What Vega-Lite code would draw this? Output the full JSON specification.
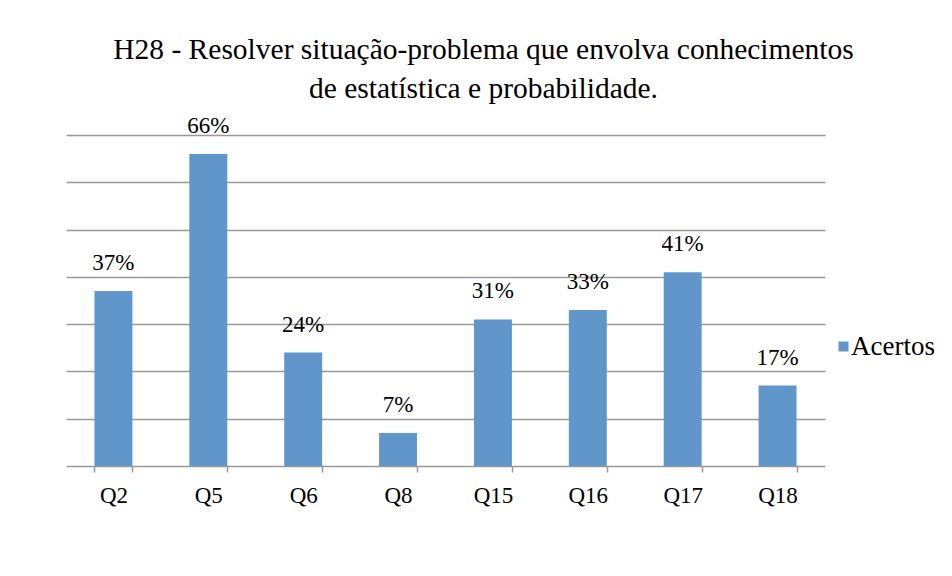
{
  "$schema": "https://vega.github.io/schema/vega-lite/v6.json",
  "autosize": "none",
  "width": 759,
  "height": 331,
  "padding": {"left": 66, "top": 135, "right": 127, "bottom": 110},
  "background": "white",
  "title": {
    "text": ["H28 - Resolver situação-problema que envolva conhecimentos", "de estatística e probabilidade."],
    "font": "Liberation Serif",
    "fontSize": 29.5,
    "fontWeight": "normal",
    "color": "black",
    "anchor": "middle",
    "dx": 38,
    "lineHeight": 39,
    "baseline": "alphabetic",
    "offset": -13
  },
  "data": {
    "values": [
      {"questao": "Q2", "serie": "Acertos", "valor": 0.37},
      {"questao": "Q5", "serie": "Acertos", "valor": 0.66},
      {"questao": "Q6", "serie": "Acertos", "valor": 0.24},
      {"questao": "Q8", "serie": "Acertos", "valor": 0.07},
      {"questao": "Q15", "serie": "Acertos", "valor": 0.31},
      {"questao": "Q16", "serie": "Acertos", "valor": 0.33},
      {"questao": "Q17", "serie": "Acertos", "valor": 0.41},
      {"questao": "Q18", "serie": "Acertos", "valor": 0.17}
    ]
  },
  "encoding": {
    "x": {
      "field": "questao",
      "type": "nominal",
      "sort": null,
      "scale": {"paddingInner": 0.6, "paddingOuter": 0.3},
      "axis": {
        "title": null,
        "labelAngle": 0,
        "labelFont": "Liberation Serif",
        "labelFontSize": 23,
        "labelColor": "black",
        "labelPadding": 12,
        "domainColor": "#999999",
        "domainWidth": 1.5,
        "tickColor": "#999999",
        "tickWidth": 1.5,
        "tickSize": 6,
        "tickBand": "extent",
        "grid": false
      }
    },
    "y": {
      "field": "valor",
      "type": "quantitative",
      "scale": {"domain": [0, 0.7], "nice": false},
      "axis": {
        "title": null,
        "labels": false,
        "ticks": false,
        "domain": false,
        "grid": true,
        "gridColor": "#999999",
        "gridWidth": 1.5,
        "values": [0.1, 0.2, 0.3, 0.4, 0.5, 0.6, 0.7]
      }
    }
  },
  "layer": [
    {
      "mark": {"type": "bar", "fill": "#6096C9"},
      "encoding": {
        "color": {
          "field": "serie",
          "type": "nominal",
          "scale": {"range": ["#6096C9"]},
          "legend": {
            "title": null,
            "orient": "none",
            "legendX": 764,
            "legendY": 198,
            "symbolType": "square",
            "symbolSize": 100,
            "symbolStrokeWidth": 0,
            "labelFont": "Liberation Serif",
            "labelFontSize": 27,
            "labelColor": "black",
            "labelOffset": -6
          }
        }
      }
    },
    {
      "mark": {
        "type": "text",
        "baseline": "alphabetic",
        "dy": -21,
        "font": "Liberation Serif",
        "fontSize": 23,
        "color": "black"
      },
      "encoding": {
        "text": {"field": "valor", "type": "quantitative", "format": ".0%"}
      }
    }
  ],
  "config": {
    "view": {"stroke": null},
    "text": {"font": "Liberation Serif"}
  }
}
